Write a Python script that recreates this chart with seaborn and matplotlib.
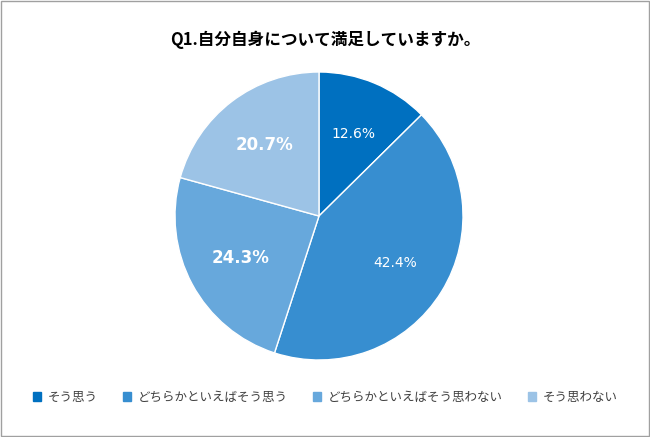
import matplotlib
matplotlib.use("Agg")
import matplotlib.pyplot as plt
import seaborn as sns
import numpy as np
from matplotlib.patches import Rectangle

categories = ["そう思う", "どちらかといえばそう思う", "どちらかといえばそう思わない", "そう思わない"]
values = [12.6, 42.4, 24.3, 20.7]
colors = ["#0070C0", "#378ED0", "#67A8DC", "#9CC3E6"]
bold = [False, False, True, True]

sns.set_theme(style="white", rc={"font.family": "Noto Sans CJK JP"})
fig = plt.figure(figsize=(6.5, 4.37), dpi=100)
fig.patch.set_facecolor("white")
fig.add_artist(Rectangle((0.002, 0.002), 0.996, 0.996, transform=fig.transFigure,
                         fill=False, edgecolor="#A0A0A0", linewidth=1))
ax = fig.add_axes([(319-144)/650, 1-(216+144)/437, 288/650, 288/437])
wedges, texts = ax.pie(values, colors=colors, startangle=90, counterclock=False,
                       wedgeprops=dict(edgecolor="white", linewidth=1))
ax.set_xlim(-1.0, 1.0)
ax.set_ylim(-1.0, 1.0)
ang = 90
for w, v, b in zip(wedges, values, bold):
    mid = np.deg2rad(ang - v * 3.6 / 2)
    ang -= v * 3.6
    r = 0.62
    ax.text(r*np.cos(mid), r*np.sin(mid), f"{v}%", ha="center", va="center",
            color="white", fontsize=12 if b else 10, fontweight="bold" if b else "normal",
            family="DejaVu Sans")
fig.text(0.5, 1-40/437, "Q1.自分自身について満足していますか。", ha="center", va="center",
         fontsize=12, fontweight="bold", color="black")
handles = [Rectangle((0, 0), 1, 1, color=c) for c in colors]
fig.legend(handles, categories, loc="center", bbox_to_anchor=(0.5, 1-397/437), ncol=4,
           frameon=False, fontsize=9, handlelength=0.7, handleheight=0.7,
           columnspacing=2.0, handletextpad=0.5, labelcolor="#404040")
fig.savefig("out.png", dpi=100)
